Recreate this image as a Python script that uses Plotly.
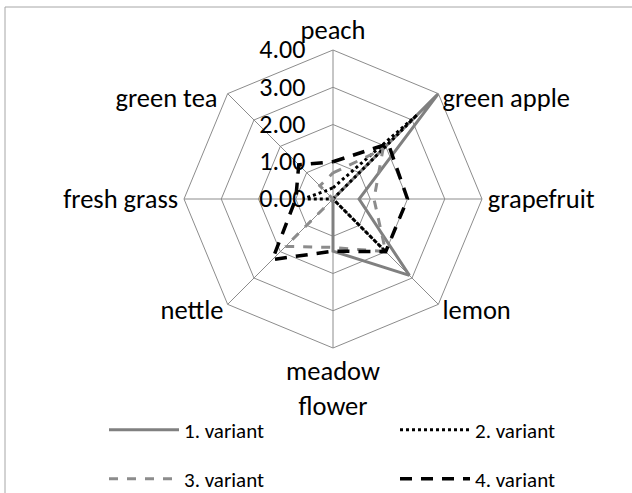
import plotly.graph_objects as go

categories = ["peach", "green apple", "grapefruit", "lemon", "meadow<br>flower",
              "nettle", "fresh grass", "green tea"]
series_names = ["1. variant", "2. variant", "3. variant", "4. variant"]
v1 = [0.0, 4.0, 0.7, 2.9, 1.4, 0.0, 0.0, 0.0]
v2 = [0.3, 3.2, 0.0, 2.0, 0.0, 0.0, 0.8, 0.3]
v3 = [0.7, 1.9, 1.1, 2.0, 1.3, 1.8, 0.0, 0.5]
v4 = [1.0, 2.1, 2.0, 2.0, 1.4, 2.3, 1.0, 1.3]
radial_ticks = [0, 1, 2, 3, 4]

FONT = "Carlito, Calibri, Lato, sans-serif"
FS = 26.5
W, H = 632, 493

# blank padding lines so that diagonal labels sit level with their vertex
NB = "\u00a0<br>"
def place_label(name, idx):
    if idx == 1:               # upper-right diagonal
        return NB * 3 + name
    if idx == 7:               # upper-left diagonal
        return NB * 3 + name + "\u00a0"
    if idx in (3, 5):          # lower diagonals
        return name + ("<br>\u00a0" * 3)
    return name
angular_text = [place_label(c, i) for i, c in enumerate(categories)]

styles = [
    dict(color="#808080", width=3, dash="solid"),
    dict(color="#000000", width=3, dash="dot"),
    dict(color="#8c8c8c", width=3, dash="dash"),
    dict(color="#000000", width=3.5, dash="12px,9px"),
]
legend_ids = ["legend", "legend2", "legend3", "legend4"]
legend_pos = [(110, 430), (401, 430), (110, 479), (401, 479)]

fig = go.Figure()
for i, (name, vals) in enumerate(zip(series_names, [v1, v2, v3, v4])):
    fig.add_trace(go.Scatterpolar(
        r=vals + vals[:1], theta=categories + categories[:1], mode="lines",
        name=name, line=styles[i], legend=legend_ids[i], showlegend=True,
    ))

cx, cy, R = 333, 199, 149
legends = {}
for lid, (lx, ly) in zip(legend_ids, legend_pos):
    legends[lid] = dict(xref="container", yref="container",
                        x=(lx - 6) / W, y=(H - ly) / H, xanchor="left",
                        yanchor="middle", itemwidth=70, borderwidth=0,
                        font=dict(size=21, family=FONT),
                        bgcolor="rgba(0,0,0,0)")

fig.update_layout(
    width=W, height=H,
    margin=dict(l=0, r=0, t=0, b=0, autoexpand=False),
    showlegend=True,
    paper_bgcolor="white", plot_bgcolor="white",
    font=dict(family=FONT, color="#000000"),
    polar=dict(
        domain=dict(x=[(cx - R) / W, (cx + R) / W],
                    y=[(H - cy - R) / H, (H - cy + R) / H]),
        gridshape="linear",
        bgcolor="white",
        radialaxis=dict(range=[0, 4], tickvals=radial_ticks, tickformat=".2f",
                        angle=90, tickangle=90, side="counterclockwise",
                        showline=False, ticks="outside", ticklen=18,
                        tickcolor="rgba(0,0,0,0)", gridcolor="#8c8c8c", gridwidth=1,
                        tickfont=dict(size=26, family=FONT), layer="below traces"),
        angularaxis=dict(direction="clockwise", rotation=90, ticks="",
                         tickmode="array", tickvals=categories, ticktext=angular_text,
                         gridcolor="#8c8c8c", gridwidth=1, linecolor="#8c8c8c",
                         linewidth=1, tickfont=dict(size=FS, family=FONT),
                         layer="below traces"),
    ),
    shapes=[dict(type="rect", xref="paper", yref="paper", x0=5 / W, x1=1.2,
                 y0=-0.2, y1=(H - 7) / H, line=dict(color="#a6a6a6", width=1),
                 layer="below")],
    **legends,
)
fig.write_html("out.html", config={"displayModeBar": False},
               post_script="document.body.style.margin='0';document.body.style.padding='0';")
